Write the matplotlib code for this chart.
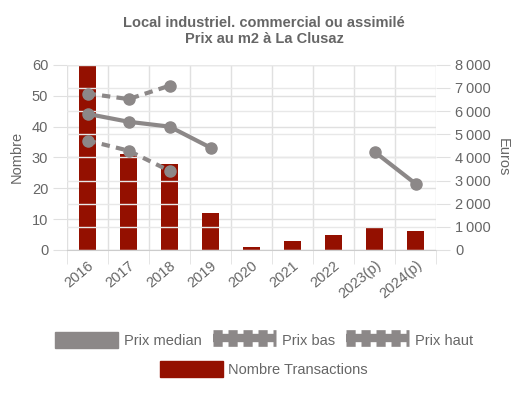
import numpy as np
import matplotlib.pyplot as plt
from matplotlib.patches import Patch
from matplotlib.lines import Line2D

# Data
annees = ["2016", "2017", "2018", "2019", "2020", "2021", "2022", "2023(p)", "2024(p)"]
nb_transactions = [60, 31, 28, 12, 1, 3, 5, 7, 6]
prix_median = [5880, 5540, 5330, 4420, np.nan, np.nan, np.nan, 4240, 2860]
prix_bas = [4730, 4290, 3420, np.nan, np.nan, np.nan, np.nan, np.nan, np.nan]
prix_haut = [6760, 6520, 7100, np.nan, np.nan, np.nan, np.nan, np.nan, np.nan]

rouge = "#941000"
gris = "#8c8888"
texte = "#666666"

plt.rcParams["font.family"] = ["Liberation Sans", "DejaVu Sans"]

fig = plt.figure(figsize=(5.28, 3.93), dpi=100)
ax = fig.add_axes([0.127, 0.364, 0.699, 0.471])
ax2 = ax.twinx()

x = np.arange(len(annees))

# Bars on left axis
ax.bar(x, nb_transactions, width=0.4, color=rouge, zorder=2)
ax.set_ylim(0, 60)
ax.set_xlim(-0.5, len(annees) - 0.5)
ax.set_yticks(range(0, 61, 10))
ax.set_ylabel("Nombre", color=texte, fontsize=10.5, labelpad=6)

# Lines on right axis
ax2.plot(x, prix_median, color=gris, lw=3, marker="o", ms=8, zorder=3)
ax2.plot(x, prix_bas, color=gris, lw=3, ls=(0, (2, 1.5)), marker="o", ms=8, zorder=3)
ax2.plot(x, prix_haut, color=gris, lw=3, ls=(0, (2, 1.5)), marker="o", ms=8, zorder=3)
ax2.set_ylim(0, 8000)
ax2.set_yticks(range(0, 8001, 1000))
ax2.set_yticklabels([f"{v:,}".replace(",", "\u202f") if v >= 1000 else str(v)
                     for v in range(0, 8001, 1000)])
ax2.set_ylabel("Euros", color=texte, fontsize=10.5, rotation=270, labelpad=14)

# Grid
ax.set_xticks(x)
ax.set_xticklabels(annees, rotation=40, ha="right", rotation_mode="anchor")
ax.set_xticks(np.arange(-0.5, len(annees), 1), minor=True)
ax.grid(True, which="minor", axis="x", color="#e0e0e0", lw=1, zorder=0)
ax.grid(True, which="major", axis="y", color="#e0e0e0", lw=1, zorder=0)
ax2.grid(True, axis="y", color="#e8e8e8", lw=1, zorder=0)
ax.tick_params(axis="x", which="major", length=0, labelsize=10.5, labelcolor=texte, pad=6)
ax.tick_params(axis="x", which="minor", length=10, color="#e0e0e0")
ax.tick_params(axis="y", length=10, color="#e0e0e0", labelsize=10.5, labelcolor=texte)
ax2.tick_params(axis="y", length=10, color="#e0e0e0", labelsize=10.5, labelcolor=texte)
for a in (ax, ax2):
    for s in a.spines.values():
        s.set_visible(False)
ax.spines["bottom"].set_visible(True)
ax.spines["bottom"].set_color("#cccccc")
ax.set_axisbelow(True)

fig.suptitle("Local industriel. commercial ou assimilé\nPrix au m2 à La Clusaz",
             x=0.5, y=0.96, fontsize=10.5, fontweight="bold", color=texte,
             linespacing=1.25)

# Legend
dash_h = (Line2D([], [], color=gris, lw=6, solid_capstyle="butt"),
          Line2D([], [], color=gris, lw=12, ls=(0, (0.55, 0.35)),
                 dash_capstyle="butt"))
h1 = [Patch(color=gris), dash_h, dash_h]
leg1 = fig.legend(h1, ["Prix median", "Prix bas", "Prix haut"], loc="center",
                  bbox_to_anchor=(0.5, 0.135), ncol=3,
                  frameon=False, fontsize=10.5, labelcolor=texte, handlelength=4.3,
                  handleheight=1.3, columnspacing=0.8, handletextpad=0.4)
h2 = [Patch(color=rouge, label="Nombre Transactions")]
fig.legend(handles=h2, loc="center", bbox_to_anchor=(0.5, 0.06), frameon=False,
           fontsize=10.5, labelcolor=texte, handlelength=4.3, handleheight=1.3,
           handletextpad=0.4)

fig.savefig("out.png", dpi=100)
